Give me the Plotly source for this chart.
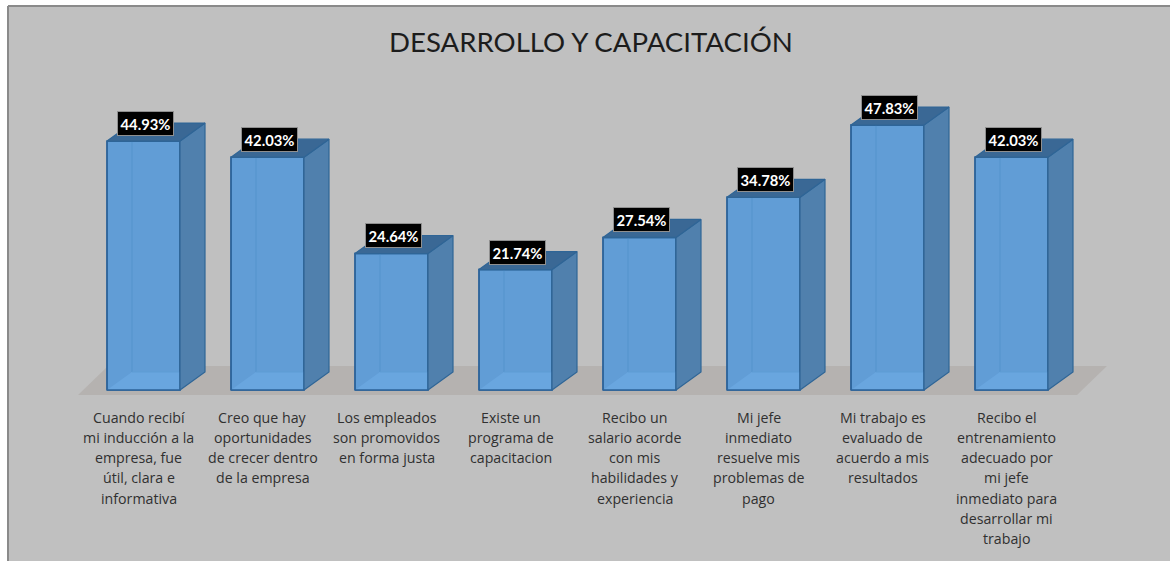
import plotly.graph_objects as go

title = "DESARROLLO Y CAPACITACIÓN"
values = [44.93, 42.03, 24.64, 21.74, 27.54, 34.78, 47.83, 42.03]
category_lines = [
    ["Cuando recibí", "mi inducción a la", "empresa, fue", "útil, clara e", "informativa"],
    ["Creo que hay", "oportunidades", "de crecer dentro", "de la empresa"],
    ["Los empleados", "son promovidos", "en forma justa"],
    ["Existe un", "programa de", "capacitacion"],
    ["Recibo un", "salario acorde", "con mis", "habilidades y", "experiencia"],
    ["Mi jefe", "inmediato", "resuelve mis", "problemas de", "pago"],
    ["Mi trabajo es", "evaluado de", "acuerdo a mis", "resultados"],
    ["Recibo el", "entrenamiento", "adecuado por", "mi jefe", "inmediato para", "desarrollar mi", "trabajo"],
]

W, H = 1170, 561
LEFT, TOP = 8, 6
PX_PER_CAT = 124.0
PX_PER_PCT = 5.54
ZERO_X_PX, ZERO_Y_PX = 143.5, 390.0

BAR_W = 73 / PX_PER_CAT
DX = 25 / PX_PER_CAT        # oblique depth of the 3D columns
DY = 18 / PX_PER_PCT

x_idx = list(range(len(values)))
half = BAR_W / 2


def polys(fn):
    xs, ys = [], []
    for i, v in zip(x_idx, values):
        px, py = fn(i, v)
        xs += px + [None]
        ys += py + [None]
    return xs, ys


def face(fn, fill, line, width=1.2):
    xs, ys = polys(fn)
    return go.Scatter(x=xs, y=ys, mode="lines", fill="toself", fillcolor=fill,
                      line=dict(color=line, width=width), hoverinfo="skip", showlegend=False)


def edges(fn, color, width=1):
    xs, ys = polys(fn)
    return go.Scatter(x=xs, y=ys, mode="lines", line=dict(color=color, width=width),
                      hoverinfo="skip", showlegend=False, connectgaps=False)


fig = go.Figure()

# front faces of the columns
fig.add_trace(go.Bar(x=x_idx, y=values, width=BAR_W,
                     marker=dict(color="#619dd6", line=dict(color="#2c6399", width=1.4)),
                     hoverinfo="skip", showlegend=False))

# lighter column floor seen through the front face
fig.add_trace(face(lambda i, v: ([i - half, i + half, i + half, i - half + DX, i - half],
                                 [0, 0, DY, DY, 0]),
                   "#69a6df", "rgba(0,0,0,0)", 0))

# hidden back edges
fig.add_trace(edges(lambda i, v: ([i - half + DX, i - half + DX], [DY, v]), "#5593cc"))
fig.add_trace(edges(lambda i, v: ([i - half + DX, i + half], [DY, DY]), "#5f9cd5"))
fig.add_trace(edges(lambda i, v: ([i - half, i + half, i + half, i - half, i - half], [0, 0, v, v, 0]), "#2c6399", 1.4))

# side and top faces
fig.add_trace(face(lambda i, v: ([i + half, i + half + DX, i + half + DX, i + half, i + half],
                                 [0, DY, v + DY, v, 0]), "#5080ad", "#2f6596"))
fig.add_trace(face(lambda i, v: ([i - half, i + half, i + half + DX, i - half + DX, i - half],
                                 [v, v, v + DY, v + DY, v]), "#3a6895", "#2f6596"))

annotations = [
    dict(text=title, xref="paper", yref="paper", x=(591 - LEFT) / (W - LEFT), y=1 - (41 - TOP) / (H - TOP),
         xanchor="center", yanchor="middle", showarrow=False,
         font=dict(family="Lato", size=27.6, color="#1c1c1c")),
]

# value tags above each column
for i, v in zip(x_idx, values):
    annotations.append(dict(
        x=i, y=v, xref="x", yref="y", text=f"<b>{v:.2f}%</b>", showarrow=False,
        xanchor="center", yanchor="middle", xshift=1.5, yshift=17.5,
        bgcolor="#000000", bordercolor="#8f8f8f", borderwidth=1, borderpad=2.5,
        font=dict(family="Lato", size=14.8, color="#ffffff")))

# category text, one annotation per line to hold the 20 px leading
for i, lines in zip(x_idx, category_lines):
    for n, line in enumerate(lines):
        annotations.append(dict(
            x=i, y=0, xref="x", yref="y", text=line, showarrow=False,
            xanchor="center", yanchor="middle", xshift=-5, yshift=-(27 + 20.3 * n),
            font=dict(family="Open Sans", size=14.2, color="#303030")))

# chart floor, under the columns
fx0 = -half - 29 / PX_PER_CAT
fx1 = x_idx[-1] + half + 29 / PX_PER_CAT
fy0 = -5 / PX_PER_PCT
fy1 = 24 / PX_PER_PCT
floor_dx = 30 / PX_PER_CAT
floor_path = (f"M {fx0},{fy0} L {fx1},{fy0} L {fx1 + floor_dx},{fy1} "
              f"L {fx0 + floor_dx},{fy1} Z")

fig.update_layout(
    width=W, height=H, autosize=False,
    margin=dict(l=LEFT, r=0, t=TOP, b=0, pad=0),
    paper_bgcolor="#ffffff", plot_bgcolor="#c0c0c0",
    showlegend=False, annotations=annotations,
    xaxis=dict(visible=False, range=[(LEFT - ZERO_X_PX) / PX_PER_CAT, (W - ZERO_X_PX) / PX_PER_CAT], fixedrange=True),
    yaxis=dict(visible=False, range=[(ZERO_Y_PX - H) / PX_PER_PCT, (ZERO_Y_PX - TOP) / PX_PER_PCT], fixedrange=True),
    shapes=[
        dict(type="path", path=floor_path, xref="x", yref="y", layer="below",
             fillcolor="#b5b2b0", line=dict(width=0)),
        dict(type="line", xref="paper", yref="paper", x0=0, x1=0, y0=0, y1=1, line=dict(color="#8a8a8a", width=2)),
        dict(type="line", xref="paper", yref="paper", x0=0, x1=1, y0=1, y1=1, line=dict(color="#8a8a8a", width=2)),
    ],
)

fig.write_html("out.html", config=dict(displayModeBar=False))
